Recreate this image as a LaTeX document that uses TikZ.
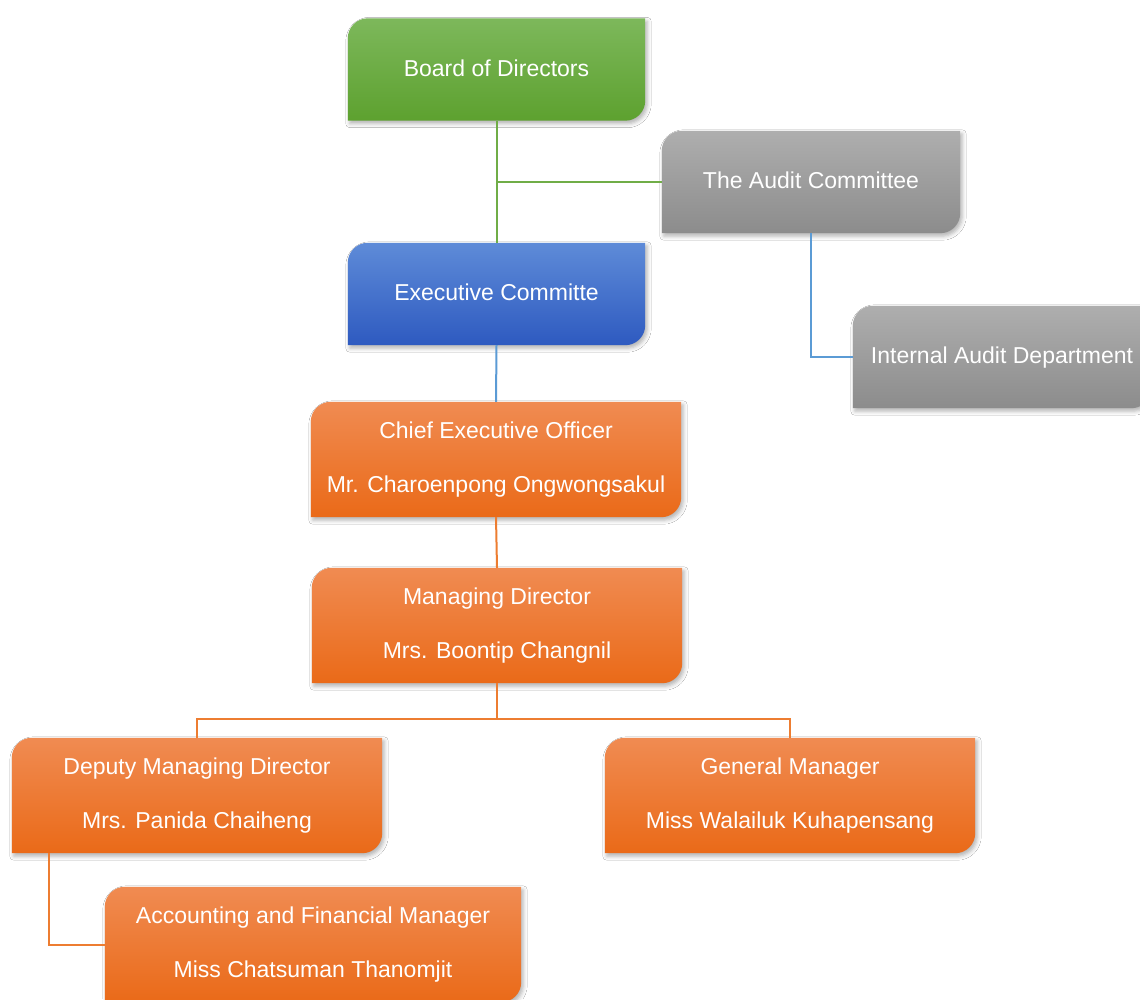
\documentclass[tikz,border=0pt]{standalone}
\usepackage{fontspec}
\setmainfont{Liberation Sans}
\usetikzlibrary{shadows.blur,calc}
\pgfdeclarelayer{bg}
\pgfsetlayers{bg,main}
\definecolor{gT}{HTML}{7DB85B}
\definecolor{gB}{HTML}{5DA12F}
\definecolor{sT}{HTML}{AEAEAE}
\definecolor{sB}{HTML}{8C8C8C}
\definecolor{bT}{HTML}{5E8BD8}
\definecolor{bB}{HTML}{2E5AC0}
\definecolor{oT}{HTML}{F08B52}
\definecolor{oB}{HTML}{EA6A18}
\definecolor{lG}{HTML}{70AD47}
\definecolor{lB}{HTML}{5B9BD5}
\definecolor{lO}{HTML}{ED7D31}
\newcommand\orgshape[3]{%
  \shade[top color=#2,bottom color=#3,
    blur shadow={shadow xshift=2pt,shadow yshift=-3pt,shadow blur radius=4pt,shadow opacity=30}]
  (#1.north east) -- ([yshift=20pt]#1.south east)
  arc[start angle=0,end angle=-90,radius=20pt] -- (#1.south west)
  -- ([yshift=-20pt]#1.north west)
  arc[start angle=180,end angle=90,radius=20pt] -- cycle;}
\tikzset{
  orgbox/.style={inner sep=0pt,text=white,align=center,
    font=\fontsize{23}{54}\selectfont},
  small/.style={orgbox,minimum width=297pt,minimum height=102pt,text depth=3pt},
  big/.style={orgbox,minimum width=370pt,minimum height=115pt},
  conn/.style={line width=2pt}
}
\begin{document}
\begin{tikzpicture}[x=1pt,y=1pt]
\useasboundingbox (0,0) rectangle (1140,-999);
\clip (0,0) rectangle (1140,-999);
\node[small] (bod) at (496.5,-69.5) {Board of Directors};
\node[small,minimum width=298pt] (audit) at (811,-182) {The Audit Committee};
\node[small] (exec) at (496.5,-294) {Executive Committe};
\node[small,minimum width=298pt] (iad) at (1002,-357) {Internal Audit Department};
\node[big] (ceo) at (496,-459.5) {Chief Executive Officer\\Mr. Charoenpong Ongwongsakul};
\node[big] (md) at (497,-625.5) {Managing Director\\Mrs. Boontip Changnil};
\node[big] (dep) at (197,-795.5) {Deputy Managing Director\\Mrs. Panida Chaiheng};
\node[big] (gm) at (790,-795.5) {General Manager\\Miss Walailuk Kuhapensang};
\node[big,minimum width=416pt] (acc) at (313,-944.5) {Accounting and Financial Manager\\Miss Chatsuman Thanomjit};
\begin{pgfonlayer}{bg}
\fill[white] (0,0) rectangle (1140,-999);
\orgshape{bod}{gT}{gB}
\orgshape{audit}{sT}{sB}
\orgshape{exec}{bT}{bB}
\orgshape{iad}{sT}{sB}
\orgshape{ceo}{oT}{oB}
\orgshape{md}{oT}{oB}
\orgshape{dep}{oT}{oB}
\orgshape{gm}{oT}{oB}
\orgshape{acc}{oT}{oB}
\end{pgfonlayer}
\coordinate (bus) at (497,-719);
\coordinate (depdrop) at ($(dep.south west)+(37,0)$);
\draw[conn,lG] (bod.south) -- (exec.north);
\draw[conn,lG] (bod.south |- audit.west) -- (audit.west);
\draw[conn,lB] (exec.south) -- (ceo.north);
\draw[conn,lB] (audit.south) |- (iad.west);
\draw[conn,lO] (ceo.south) -- (md.north);
\draw[conn,lO] (md.south) -- (bus);
\draw[conn,lO] (bus) -| (dep.north);
\draw[conn,lO] (bus) -| (gm.north);
\draw[conn,lO] (depdrop) |- (acc.west);
\end{tikzpicture}
\end{document}
